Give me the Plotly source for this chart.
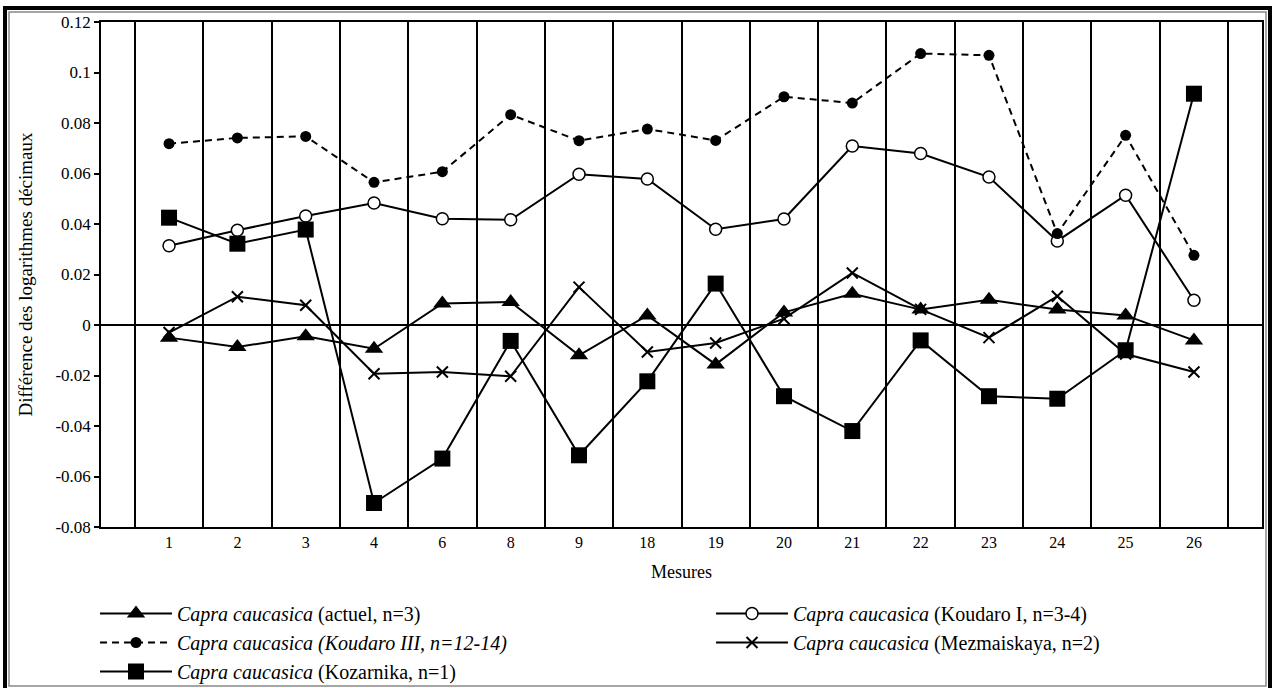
import plotly.graph_objects as go

mesures = ["1", "2", "3", "4", "6", "8", "9", "18", "19", "20", "21", "22", "23", "24", "25", "26"]

actuel = [-0.0050, -0.0087, -0.0045, -0.0094, 0.0085, 0.0091, -0.0120, 0.0038, -0.0156, 0.0050,
          0.0124, 0.0061, 0.0100, 0.0061, 0.0038, -0.0061]
koudaro_1 = [0.0314, 0.0375, 0.0432, 0.0483, 0.0421, 0.0417, 0.0597, 0.0578, 0.0379, 0.0420,
             0.0709, 0.0679, 0.0586, 0.0333, 0.0514, 0.0098]
koudaro_3 = [0.0718, 0.0741, 0.0747, 0.0565, 0.0607, 0.0833, 0.0730, 0.0776, 0.0731, 0.0904,
             0.0879, 0.1075, 0.1068, 0.0362, 0.0751, 0.0276]
mezmaiskaya = [-0.0030, 0.0112, 0.0078, -0.0193, -0.0186, -0.0203, 0.0150, -0.0107, -0.0071, 0.0025,
               0.0206, 0.0062, -0.0050, 0.0114, -0.0115, -0.0186]
kozarnika = [0.0425, 0.0322, 0.0378, -0.0705, -0.0529, -0.0063, -0.0516, -0.0223, 0.0164, -0.0282,
             -0.0420, -0.0061, -0.0282, -0.0292, -0.0100, 0.0916]

y_ticks = [0.12, 0.1, 0.08, 0.06, 0.04, 0.02, 0, -0.02, -0.04, -0.06, -0.08]
y_ticktext = ["0.12", "0.1", "0.08", "0.06", "0.04", "0.02", "0", "-0.02", "-0.04", "-0.06", "-0.08"]

FONT = "Liberation Serif, Times New Roman, serif"

fig = go.Figure()

fig.add_trace(go.Scatter(
    x=mesures, y=actuel, mode="lines+markers", legend="legend",
    name="<i>Capra caucasica</i> (actuel, n=3)",
    line=dict(color="black", width=2),
    marker=dict(symbol="triangle-up", size=16, color="black"),
))
fig.add_trace(go.Scatter(
    x=mesures, y=koudaro_1, mode="lines+markers", legend="legend2",
    name="<i>Capra caucasica</i> (Koudaro I, n=3-4)",
    line=dict(color="black", width=2),
    marker=dict(symbol="circle", size=12, color="white", line=dict(color="black", width=1.5)),
))
fig.add_trace(go.Scatter(
    x=mesures, y=koudaro_3, mode="lines+markers", legend="legend",
    name="<i>Capra caucasica (Koudaro III, n=12-14)</i>",
    line=dict(color="black", width=2, dash="7px,5px"),
    marker=dict(symbol="circle", size=11, color="black"),
))
fig.add_trace(go.Scatter(
    x=mesures, y=mezmaiskaya, mode="lines+markers", legend="legend2",
    name="<i>Capra caucasica</i> (Mezmaiskaya, n=2)",
    line=dict(color="black", width=2),
    marker=dict(symbol="x-thin", size=11, color="black", line=dict(color="black", width=2)),
))
fig.add_trace(go.Scatter(
    x=mesures, y=kozarnika, mode="lines+markers", legend="legend",
    name="<i>Capra caucasica</i> (Kozarnika, n=1)",
    line=dict(color="black", width=2),
    marker=dict(symbol="square", size=16, color="black"),
))

L, R, T, B = 101, 10, 22, 161
W, H = 1272, 688
pw, ph = W - L - R, H - T - B

def px_x(p):
    return (p - L) / pw

def px_y(p):
    return (H - B - p) / ph

legend_common = dict(
    orientation="v", xanchor="left", yanchor="top",
    font=dict(family=FONT, size=20, color="black"),
    bgcolor="rgba(0,0,0,0)", borderwidth=0,
    traceorder="normal", itemwidth=72,
)

fig.update_layout(
    width=W, height=H,
    margin=dict(l=L, r=R, t=T, b=B, autoexpand=False),
    paper_bgcolor="white", plot_bgcolor="white",
    font=dict(family=FONT, size=16, color="black"),
    showlegend=True,
    legend=dict(x=px_x(95), y=px_y(594), **legend_common),
    legend2=dict(x=px_x(711), y=px_y(594), **legend_common),
    xaxis=dict(
        type="category",
        categoryorder="array", categoryarray=mesures,
        tickson="boundaries",
        showgrid=True, gridcolor="black", gridwidth=1.5,
        ticks="outside", ticklen=4, tickcolor="rgba(0,0,0,0)",
        showline=True, linecolor="black", linewidth=1.5, mirror=True,
        tickfont=dict(family=FONT, size=16),
        automargin=False,
        title=dict(text="Mesures", font=dict(family=FONT, size=18), standoff=15),
    ),
    yaxis=dict(
        range=[-0.08, 0.12],
        tickmode="array", tickvals=y_ticks, ticktext=y_ticktext,
        showgrid=False, zeroline=True, zerolinecolor="black", zerolinewidth=1.5,
        ticks="outside", ticklen=5, tickcolor="black", tickwidth=1.5,
        showline=True, linecolor="black", linewidth=1.5, mirror=True,
        tickfont=dict(family=FONT, size=17),
        automargin=False,
        title=dict(text="Différence des logarithmes décimaux", font=dict(family=FONT, size=19), standoff=18),
    ),
    shapes=[
        dict(type="rect", xref="paper", yref="paper",
             x0=px_x(9), x1=px_x(1266), y0=px_y(686), y1=px_y(12),
             line=dict(color="#888888", width=1.5), fillcolor="rgba(0,0,0,0)", layer="above"),
        dict(type="rect", xref="paper", yref="paper",
             x0=px_x(5), x1=px_x(1270), y0=px_y(700), y1=px_y(8),
             line=dict(color="black", width=4), fillcolor="rgba(0,0,0,0)", layer="above"),
    ],
)

fig.write_html(
    "out.html",
    config={"displayModeBar": False},
    post_script="document.body.style.margin='0';document.body.style.padding='0';",
)
